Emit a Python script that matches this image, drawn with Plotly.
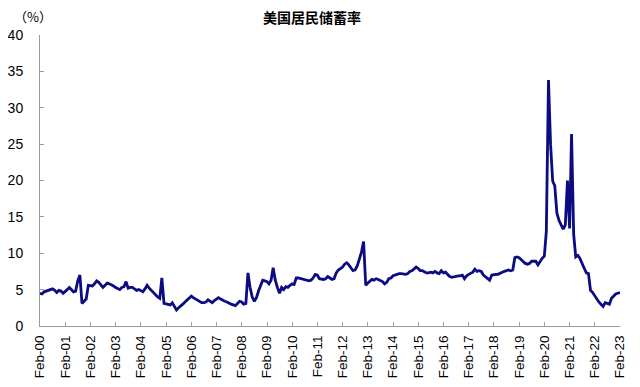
import pandas as pd
import plotly.graph_objects as go

# Monthly US personal saving rate (%), Feb 2000 .. Feb 2023
start_month = "2000-02-01"
rate_2000 = [4.5, 4.4, 4.7, 4.8, 4.8, 5.0, 5.1, 4.9, 4.6, 4.9, 4.8]
rate_2001 = [4.5, 4.7, 5.0, 5.3, 5.0, 4.7, 4.8, 6.2, 7.0, 3.1, 3.4, 3.7]
rate_2002 = [5.6, 5.6, 5.5, 5.8, 6.2, 6.0, 5.6, 5.3, 5.6, 5.9, 5.8, 5.7]
rate_2003 = [5.5, 5.3, 5.2, 5.0, 5.3, 5.4, 6.1, 5.2, 5.3, 5.3, 5.1, 4.9]
rate_2004 = [5.0, 4.8, 4.7, 5.1, 5.6, 5.2, 4.9, 4.6, 4.2, 4.0, 3.8, 6.6]
rate_2005 = [3.1, 3.0, 3.0, 2.9, 3.2, 2.6, 2.2, 2.5, 2.7, 3.0, 3.3, 3.6]
rate_2006 = [3.8, 4.1, 3.9, 3.7, 3.6, 3.3, 3.2, 3.2, 3.3, 3.6, 3.4, 3.2]
rate_2007 = [3.5, 3.7, 3.9, 3.7, 3.5, 3.4, 3.3, 3.1, 3.0, 2.9, 2.8, 3.1]
rate_2008 = [3.4, 3.3, 3.0, 3.1, 7.3, 5.3, 4.0, 3.4, 3.9, 4.8, 5.6, 6.3]
rate_2009 = [6.2, 6.1, 5.8, 6.3, 8.0, 6.3, 5.3, 4.5, 5.3, 5.0, 5.4, 5.3]
rate_2010 = [5.6, 5.8, 5.7, 6.6, 6.6, 6.5, 6.4, 6.3, 6.3, 6.2, 6.3, 6.6]
rate_2011 = [7.1, 7.0, 6.5, 6.4, 6.4, 6.5, 6.8, 6.6, 6.4, 6.5, 7.3, 7.7]
rate_2012 = [7.9, 8.1, 8.5, 8.7, 8.4, 8.0, 7.6, 7.7, 8.3, 9.2, 10.2, 11.6]
rate_2013 = [5.6, 5.9, 6.2, 6.4, 6.3, 6.5, 6.4, 6.3, 6.1, 5.8, 6.0, 6.5]
rate_2014 = [6.6, 6.9, 7.0, 7.0, 7.2, 7.2, 7.1, 7.1, 7.2, 7.5, 7.6, 7.9]
rate_2015 = [8.1, 7.9, 7.6, 7.6, 7.4, 7.3, 7.3, 7.4, 7.3, 7.5, 7.3, 7.2]
rate_2016 = [7.6, 7.3, 7.4, 7.1, 6.8, 6.7, 6.8, 6.9, 6.9, 6.9, 7.0, 6.5]
rate_2017 = [6.9, 7.1, 7.2, 7.4, 7.8, 7.5, 7.6, 7.5, 7.0, 6.8, 6.5, 6.3]
rate_2018 = [7.0, 7.1, 7.1, 7.1, 7.3, 7.4, 7.5, 7.6, 7.7, 7.6, 7.7, 9.4]
rate_2019 = [9.5, 9.4, 9.1, 8.9, 8.6, 8.5, 8.6, 8.9, 8.9, 8.9, 8.4, 8.9]
rate_2020 = [9.3, 9.6, 13.0, 33.8, 25.0, 19.9, 19.3, 15.5, 14.5, 13.9, 13.3, 13.9]
rate_2021 = [20.0, 13.4, 26.4, 12.6, 9.5, 9.7, 9.3, 8.6, 7.8, 7.3, 7.2, 4.9]
rate_2022 = [4.6, 4.1, 3.7, 3.3, 3.0, 2.7, 3.2, 3.1, 3.0, 3.8, 4.1, 4.4]
rate_2023 = [4.5, 4.6]

saving_rate = (rate_2000 + rate_2001 + rate_2002 + rate_2003 + rate_2004 + rate_2005
               + rate_2006 + rate_2007 + rate_2008 + rate_2009 + rate_2010 + rate_2011
               + rate_2012 + rate_2013 + rate_2014 + rate_2015 + rate_2016 + rate_2017
               + rate_2018 + rate_2019 + rate_2020 + rate_2021 + rate_2022 + rate_2023)
months = pd.date_range(start_month, periods=len(saving_rate), freq="MS")

tick_years = list(range(2000, 2024))
tick_dates = [f"{y}-02-01" for y in tick_years]
tick_labels = [f"Feb-{y % 100:02d}" for y in tick_years]
y_ticks = [0, 5, 10, 15, 20, 25, 30, 35, 40]

fig = go.Figure()
fig.add_trace(go.Scatter(
    x=months, y=saving_rate, mode="lines",
    line=dict(color="#0b0b82", width=2.8),
    hoverinfo="skip", showlegend=False,
))

axis_color = "#9a9a9a"
fig.update_layout(
    width=632, height=379,
    margin=dict(l=32, r=20, t=27, b=61),
    paper_bgcolor="white", plot_bgcolor="white",
    font=dict(family="Liberation Sans, Arial, sans-serif", color="#000000"),
    title=dict(text="<b>美国居民储蓄率</b>", x=0.481, xanchor="center",
               y=0.974, yanchor="middle",
               font=dict(family="Noto Sans CJK SC", size=14, color="#000000")),
    annotations=[dict(text="（%）", xref="paper", yref="paper", x=-0.048, y=1.062,
                      xanchor="left", yanchor="middle", showarrow=False,
                      font=dict(family="Noto Sans CJK SC", size=13, color="#000000"))],
)
fig.update_xaxes(
    type="date", range=[tick_dates[0], tick_dates[-1]],
    tickmode="array", tickvals=tick_dates, ticktext=tick_labels,
    tickangle=-90, tickfont=dict(size=13.5), ticklabelstandoff=3,
    automargin=False,
    showgrid=False, zeroline=False,
    showline=True, linecolor=axis_color, linewidth=1,
    ticks="inside", ticklen=4, tickcolor=axis_color,
)
fig.update_yaxes(
    range=[0, 40], tickmode="array", tickvals=y_ticks,
    tickfont=dict(size=14), ticklabelstandoff=13,
    automargin=False,
    showgrid=False, zeroline=False,
    showline=True, linecolor=axis_color, linewidth=1,
    ticks="inside", ticklen=4, tickcolor=axis_color,
)

fig.write_html("out.html")
